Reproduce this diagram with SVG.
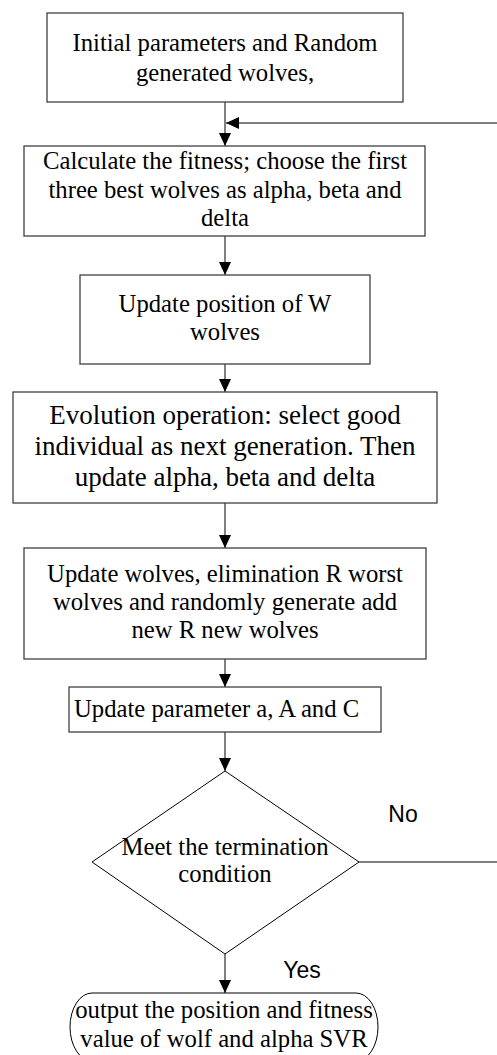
<svg xmlns="http://www.w3.org/2000/svg" width="497" height="1055" viewBox="0 0 497 1055">
<defs>
<marker id="ah" markerUnits="userSpaceOnUse" markerWidth="14" markerHeight="12" refX="13" refY="6" orient="auto">
<path d="M0,0 L13,6 L0,12 Z" fill="#000"/>
</marker>
<style>
.box{fill:#fff;stroke:#404040;stroke-width:1.3}
.dia{fill:#fff;stroke:#000;stroke-width:1}
.t{font-family:"Liberation Serif","Times New Roman",serif;font-size:24.7px;fill:#000;text-anchor:middle}
.big{font-size:27px}
.lbl{font-family:"Liberation Sans",Arial,sans-serif;font-size:23px;fill:#000;text-anchor:middle}
.c{fill:none;stroke:#555;stroke-width:1.5}
.cb{fill:none;stroke:#000;stroke-width:1}
</style>
</defs>
<rect width="497" height="1055" fill="#fff"/>
<g id="connectors">
<line class="c" x1="225" y1="102" x2="225" y2="146" marker-end="url(#ah)"/>
<line class="cb" x1="497" y1="123" x2="226" y2="123" marker-end="url(#ah)"/>
<line class="c" x1="225" y1="236" x2="225" y2="275" marker-end="url(#ah)"/>
<line class="c" x1="225" y1="364" x2="225" y2="392" marker-end="url(#ah)"/>
<line class="c" x1="225" y1="503" x2="225" y2="548" marker-end="url(#ah)"/>
<line class="c" x1="225" y1="659" x2="225" y2="687" marker-end="url(#ah)"/>
<line class="c" x1="225" y1="732" x2="225" y2="771" marker-end="url(#ah)"/>
<line class="c" x1="225" y1="954" x2="225" y2="993" marker-end="url(#ah)"/>
<line class="cb" x1="359" y1="862" x2="497" y2="862"/>
<text class="lbl" x="403" y="822">No</text>
<text class="lbl" x="302" y="978">Yes</text>
</g>
<g id="n1">
<rect class="box" x="47" y="13" width="356" height="89"/>
<text class="t" x="225" y="51">Initial parameters and Random</text>
<text class="t" x="225" y="81">generated wolves,</text>
</g>
<g id="n2">
<rect class="box" x="24" y="146" width="401" height="90"/>
<text class="t" x="225" y="169">Calculate the fitness; choose the first</text>
<text class="t" x="225" y="198">three best wolves as alpha, beta and</text>
<text class="t" x="225" y="226">delta</text>
</g>
<g id="n3">
<rect class="box" x="80" y="275" width="290" height="89"/>
<text class="t" x="225" y="312">Update position of W</text>
<text class="t" x="225" y="340">wolves</text>
</g>
<g id="n4">
<rect class="box" x="13" y="392" width="424" height="111"/>
<text class="t big" x="225" y="424">Evolution operation: select good</text>
<text class="t big" x="225" y="455">individual as next generation. Then</text>
<text class="t big" x="225" y="486">update alpha, beta and delta</text>
</g>
<g id="n5">
<rect class="box" x="24" y="548" width="402" height="111"/>
<text class="t" x="225" y="582">Update wolves, elimination R worst</text>
<text class="t" x="225" y="610">wolves and randomly generate add</text>
<text class="t" x="225" y="638">new R new wolves</text>
</g>
<g id="n6">
<rect class="box" x="69" y="687" width="312" height="45"/>
<text class="t" x="74" y="717" style="text-anchor:start">Update parameter a, A and C</text>
</g>
<g id="n7">
<polygon class="dia" points="225,771 359,862 225,954 92,862"/>
<text class="t" x="225" y="855">Meet the termination</text>
<text class="t" x="225" y="882">condition</text>
</g>
<g id="n8">
<rect class="dia" x="70" y="993" width="308" height="68" rx="22" ry="34"/>
<text class="t" x="224" y="1018">output the position and fitness</text>
<text class="t" x="224" y="1047">value of wolf and alpha SVR</text>
</g>
</svg>
